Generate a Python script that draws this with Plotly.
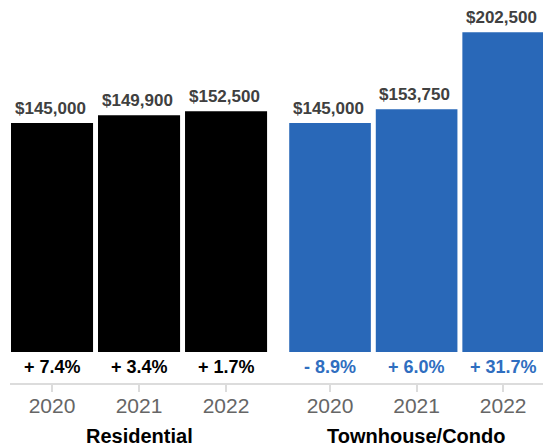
import plotly.graph_objects as go

# Median sale price by year, two property types
years = ["2020", "2021", "2022"]
residential_price = [145000, 149900, 152500]
townhouse_price = [145000, 153750, 202500]
residential_change = ["+ 7.4%", "+ 3.4%", "+ 1.7%"]
townhouse_change = ["- 8.9%", "+ 6.0%", "+ 31.7%"]
group_titles = ["Residential", "Townhouse/Condo"]

BLACK = "#000000"
BLUE = "#2968b8"
BLUE_TEXT = "#2f6ec0"
LABEL_GRAY = "#404040"
AXIS_GRAY = "#dcdcdc"
FONT = "Liberation Sans, Arial, sans-serif"

W, H = 543, 448
idx = [0, 1, 2]

fig = go.Figure()
fig.add_trace(go.Bar(x=idx, y=residential_price, width=0.943, marker_color=BLACK,
                     marker_line_width=0, xaxis="x", yaxis="y", hoverinfo="skip"))
fig.add_trace(go.Bar(x=idx, y=townhouse_price, width=0.943, marker_color=BLUE,
                     marker_line_width=0, xaxis="x2", yaxis="y", hoverinfo="skip"))

annotations = []
for xref, prices, changes, ccolor in [
    ("x", residential_price, residential_change, BLACK),
    ("x2", townhouse_price, townhouse_change, BLUE_TEXT),
]:
    for i, (p, c) in enumerate(zip(prices, changes)):
        annotations.append(dict(x=i, y=p, xref=xref, yref="y", text=f"${p:,}",
                                showarrow=False, yanchor="bottom", yshift=3, xshift=-2,
                                font=dict(family=FONT, size=17, color=LABEL_GRAY, weight="bold")))
        annotations.append(dict(x=i, y=-9800, xref=xref, yref="y", text=c,
                                showarrow=False, yanchor="middle",
                                font=dict(family=FONT, size=18, color=ccolor, weight="bold")))
    annotations.append(dict(x=1, y=0, xref=xref, yref="paper", text=group_titles[0 if xref == "x" else 1],
                            showarrow=False, yanchor="middle", yshift=-53,
                            font=dict(family=FONT, size=20, color="#000000", weight="bold")))

axis_common = dict(tickmode="array", tickvals=idx, ticktext=years,
                   showline=True, linecolor=AXIS_GRAY, linewidth=2,
                   ticks="outside", ticklen=7, tickwidth=2, tickcolor=AXIS_GRAY,
                   ticklabelstandoff=-4,
                   showgrid=False, zeroline=False, fixedrange=True,
                   tickfont=dict(family=FONT, size=21, color="#666666"))

fig.update_layout(
    width=W, height=H,
    margin=dict(l=0, r=0, t=0, b=65),
    paper_bgcolor="white", plot_bgcolor="white",
    showlegend=False,
    xaxis=dict(domain=[10 / W, 280 / W], range=[-0.483, 2.62], anchor="y", **axis_common),
    xaxis2=dict(domain=[280 / W, 1], range=[-0.578, 2.46], anchor="y", **axis_common),
    yaxis=dict(range=[-19630, 222880], visible=False, fixedrange=True),
    annotations=annotations,
)

fig.write_html("out.html")
